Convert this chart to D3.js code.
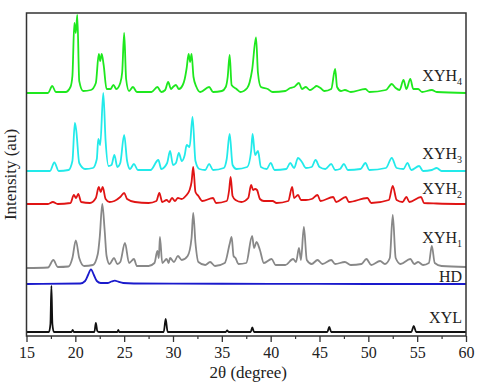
<!DOCTYPE html>
<html>
<head>
<meta charset="utf-8">
<script src="https://cdn.jsdelivr.net/npm/d3@7"></script>
<style>
  body { margin: 0; padding: 0; background: #fff; }
  svg text { font-family: 'Liberation Serif', 'Times New Roman', serif; fill: #222; }
  .tick text { font-size: 16px; }
</style>
</head>
<body>
<div id="chart"></div>
<script>
// 2theta / intensity pairs (arbitrary units)
const xyl = [[15,0],[17.3,0],[17.45,8],[17.55,46],[17.65,8],[17.8,0],[19.6,0],[19.73,2],[19.85,0],[21.95,0],[22.1,9],[22.25,1],[22.4,0],[24.3,0],[24.4,2],[24.5,0],[29.05,0],[29.25,13],[29.45,0],[35.4,0],[35.55,1.5],[35.7,0],[37.95,0],[38.12,4.5],[38.3,0],[45.8,0],[46.0,5],[46.2,0],[54.4,0],[54.65,6],[54.9,0],[60,0]]

const hd = [[15,0],[20.5,0.5],[21.0,3],[21.3,9],[21.6,14.7],[21.9,9],[22.2,3],[22.6,1],[23.3,1],[23.7,2.5],[24.05,3.3],[24.4,2.3],[24.9,1],[26,0.5],[30,0.3],[40,0.2],[50,0],[60,0]]

const xyh1 = [[15,0],[17.2,0.5],[17.75,8],[18.2,1],[19.3,1.5],[19.7,10],[20.05,27.7],[20.4,10],[20.9,2],[21.8,3],[22.3,14],[22.5,31],[22.76,64],[23.0,38],[23.2,12],[23.5,4],[23.96,10],[24.3,4],[24.6,6],[25.08,25],[25.5,5],[26.0,9],[26.3,2],[27.5,2],[28.1,5],[28.4,17],[28.55,10],[28.66,31],[28.9,5],[29.35,9],[29.55,5],[29.7,10],[30.1,6],[30.5,12],[30.9,8],[31.5,12],[31.9,30],[32.07,55],[32.3,25],[32.6,6],[33.3,3],[33.8,6],[34.3,2],[35.3,5],[35.8,24],[36.0,31],[36.2,12],[36.4,10],[36.7,4],[37.5,5],[38.1,32],[38.3,20],[38.55,26],[38.9,18],[39.3,5],[40.1,9],[40.5,3],[41.5,3],[42.3,9],[42.6,6],[42.9,20],[43.1,8],[43.4,41],[43.7,8],[44.2,4],[44.8,8],[45.3,4],[46.2,8],[46.6,4],[47.6,6],[48.2,3],[49.3,4],[49.8,9],[50.3,3],[51.2,7],[51.7,4],[52.2,10],[52.5,53],[52.8,10],[53.3,4],[54.3,9],[54.7,4],[55.1,6],[55.6,3],[56.2,5],[56.5,22],[56.8,5],[57.5,2],[60,1]]

const xyh2 = [[15,0],[17.2,0],[17.7,2],[18.2,0],[19.5,1],[19.85,9],[20.07,6],[20.3,10],[20.6,2],[21.5,1],[22.1,6],[22.4,17],[22.6,12],[22.8,17],[23.1,5],[23.5,2],[24.0,3],[24.6,7],[25.0,11],[25.3,5],[26.1,2],[27.5,1],[28.3,3],[28.6,11],[28.9,2],[29.35,4],[29.6,2],[29.9,6],[30.2,3],[30.5,6],[30.9,5],[31.3,8],[31.7,14],[31.9,22],[32.07,37],[32.3,12],[32.6,8],[33.0,3],[34.1,6],[34.4,1],[35.5,3],[35.75,14],[35.9,27],[36.1,8],[36.4,4],[37.0,2],[37.7,6],[38.0,19],[38.2,14],[38.4,15],[38.6,14],[38.9,5],[39.3,3],[40.2,3],[40.6,1],[41.8,3],[42.2,17],[42.4,6],[42.8,9],[43.1,4],[43.6,4],[44.2,5],[44.8,9],[45.1,3],[46.4,7],[46.7,2],[47.7,7],[48.0,2],[49.9,6],[50.3,1],[52.1,4],[52.5,18],[52.9,4],[53.5,2],[53.9,7],[54.2,2],[55.4,7],[55.7,1],[57,0.5],[60,0]]

const xyh3 = [[15,0],[17.4,0],[17.85,8.5],[18.3,0],[19.3,1],[19.7,10],[19.95,48],[20.1,40],[20.4,8],[21.0,2],[21.8,3],[22.2,12],[22.35,32],[22.55,26],[22.86,78],[23.1,30],[23.4,5],[23.7,6],[24.0,16],[24.3,4],[24.6,8],[25.0,36],[25.3,10],[25.6,2],[26.0,7],[26.4,1],[27.7,1],[28.5,11],[28.8,2],[29.4,8],[29.7,20],[30.0,6],[30.3,8],[30.6,18],[30.9,10],[31.2,16],[31.4,26],[31.7,24],[32.0,54],[32.3,10],[32.7,2],[33.3,1],[33.7,7],[34.1,1],[35.2,3],[35.5,12],[35.8,37],[36.1,6],[36.5,2],[37.6,4],[38.0,20],[38.15,37],[38.4,16],[38.7,20],[39.0,4],[39.6,2],[40.0,8],[40.4,1],[41.6,2],[42.0,8],[42.4,3],[42.8,13],[43.2,9],[43.6,3],[44.2,4],[44.6,11],[45.0,4],[45.6,2],[46.2,7],[46.6,1],[47.1,2],[47.5,7],[47.9,1],[49.2,2],[49.7,8],[50.1,1],[51.8,3],[52.4,13],[52.9,3],[53.6,2],[54.0,8],[54.4,1],[55.2,5],[55.6,0],[56.5,1],[57.0,3],[57.5,0],[60,0]]

const xyh4 = [[15,0],[17.2,0],[17.64,7],[18.0,1],[19.0,1],[19.5,6],[19.7,17],[19.9,70],[20.05,60],[20.2,78],[20.4,12],[20.8,2],[21.6,3],[22.1,10],[22.4,39],[22.55,32],[22.7,39],[22.9,28],[23.2,4],[23.6,4],[23.9,8],[24.2,4],[24.6,10],[24.8,21],[25.0,60],[25.2,14],[25.5,2],[25.9,6],[26.3,1],[27.8,1],[28.4,6],[28.8,1],[29.2,3],[29.5,11],[29.8,4],[30.0,6],[30.3,8],[30.6,4],[31.0,8],[31.2,14],[31.4,25],[31.6,39],[31.75,31],[31.9,39],[32.1,16],[32.4,6],[32.8,1],[33.7,6],[34.1,1],[35.0,2],[35.4,6],[35.6,16],[35.8,38],[36.0,8],[36.5,4],[36.9,1],[37.6,5],[38.1,23],[38.5,55.6],[38.7,20],[39.0,6],[39.7,4],[40.2,1],[41.5,2],[42.0,5],[42.4,6],[42.9,10],[43.2,4],[43.6,6],[44.0,3],[44.4,5],[44.7,7],[45.1,5],[45.5,2],[46.2,4],[46.6,24],[46.8,6],[47.2,2],[47.6,3],[48.2,1],[49.7,4],[50.1,1],[51.8,3],[52.4,9],[52.8,5],[53.2,3],[53.6,13],[53.9,4],[54.3,14],[54.6,4],[55.1,4],[55.5,1],[56.5,3],[57,1],[60,0]]

const names = ['XYL', 'HD', 'XYH1', 'XYH2', 'XYH3', 'XYH4']
const offsets = [4, 52, 68, 132, 165, 243]
const colors = ['#111111', '#1a1acc', '#888888', '#e01414', '#22eaea', '#1ee81e']
const series = [xyl, hd, xyh1, xyh2, xyh3, xyh4]
const xTicks = [15, 20, 25, 30, 35, 40, 45, 50, 55, 60]
const xMinorTicks = [17.5, 22.5, 27.5, 32.5, 37.5, 42.5, 47.5, 52.5, 57.5]

const width = 480, height = 385
const margin = {top: 13, right: 14, bottom: 49, left: 26.5}

const x = d3.scaleLinear().domain([15, 60]).range([margin.left, width - margin.right])
const y = d3.scaleLinear().domain([0, 323]).range([height - margin.bottom, margin.top])

const svg = d3.select('#chart').append('svg')
  .attr('width', width)
  .attr('height', height)

const line = d3.line()
  .x(d => x(d[0]))
  .y(d => y(d[1]))
  .curve(d3.curveMonotoneX)

svg.append('g')
  .selectAll('path')
  .data(series)
  .enter()
  .append('path')
  .attr('d', (d, i) => line(d.map(p => [p[0], p[1] + offsets[i]])))
  .attr('fill', 'none')
  .attr('stroke', (d, i) => colors[i])
  .attr('stroke-width', 1.8)
  .attr('stroke-linejoin', 'round')

// frame
svg.append('rect')
  .attr('x', margin.left)
  .attr('y', margin.top)
  .attr('width', width - margin.left - margin.right)
  .attr('height', height - margin.top - margin.bottom)
  .attr('fill', 'none')
  .attr('stroke', '#333')
  .attr('stroke-width', 1.5)

const xAxis = svg.append('g')
  .attr('transform', `translate(0, ${height - margin.bottom})`)
  .call(d3.axisBottom(x).tickValues(xTicks).tickSize(6).tickSizeOuter(0).tickPadding(5))
xAxis.select('.domain').remove()
xAxis.selectAll('.tick line').attr('stroke', '#333').attr('stroke-width', 1.3)
xAxis.selectAll('.tick text').attr('fill', '#222')

const xMinor = svg.append('g')
  .attr('transform', `translate(0, ${height - margin.bottom})`)
  .call(d3.axisBottom(x).tickValues(xMinorTicks).tickSize(3).tickFormat(''))
xMinor.select('.domain').remove()
xMinor.selectAll('.tick line').attr('stroke', '#333').attr('stroke-width', 1.2)

svg.append('text')
  .attr('x', (margin.left + width - margin.right) / 2 + 2)
  .attr('y', 378)
  .attr('text-anchor', 'middle')
  .style('font-size', '17px')
  .text('2θ (degree)')

svg.append('text')
  .attr('transform', `translate(16, ${(margin.top + height - margin.bottom) / 2}) rotate(-90)`)
  .attr('text-anchor', 'middle')
  .style('font-size', '17px')
  .text('Intensity (au)')

// series labels, the digit of XYHn is a subscript
const labelY = [322.7, 281.7, 243, 194, 159.3, 81]
const labels = svg.append('g')
  .selectAll('text')
  .data(names)
  .enter()
  .append('text')
  .attr('x', 462)
  .attr('y', (d, i) => labelY[i])
  .attr('text-anchor', 'end')
  .style('font-size', '16px')

labels.each(function (d) {
  const t = d3.select(this)
  const m = d.match(/^(XYH)(\d)$/)
  if (m) {
    t.append('tspan').text(m[1])
    t.append('tspan').attr('dy', 4).style('font-size', '10px').text(m[2])
  } else {
    t.text(d)
  }
})
</script>
</body>
</html>
